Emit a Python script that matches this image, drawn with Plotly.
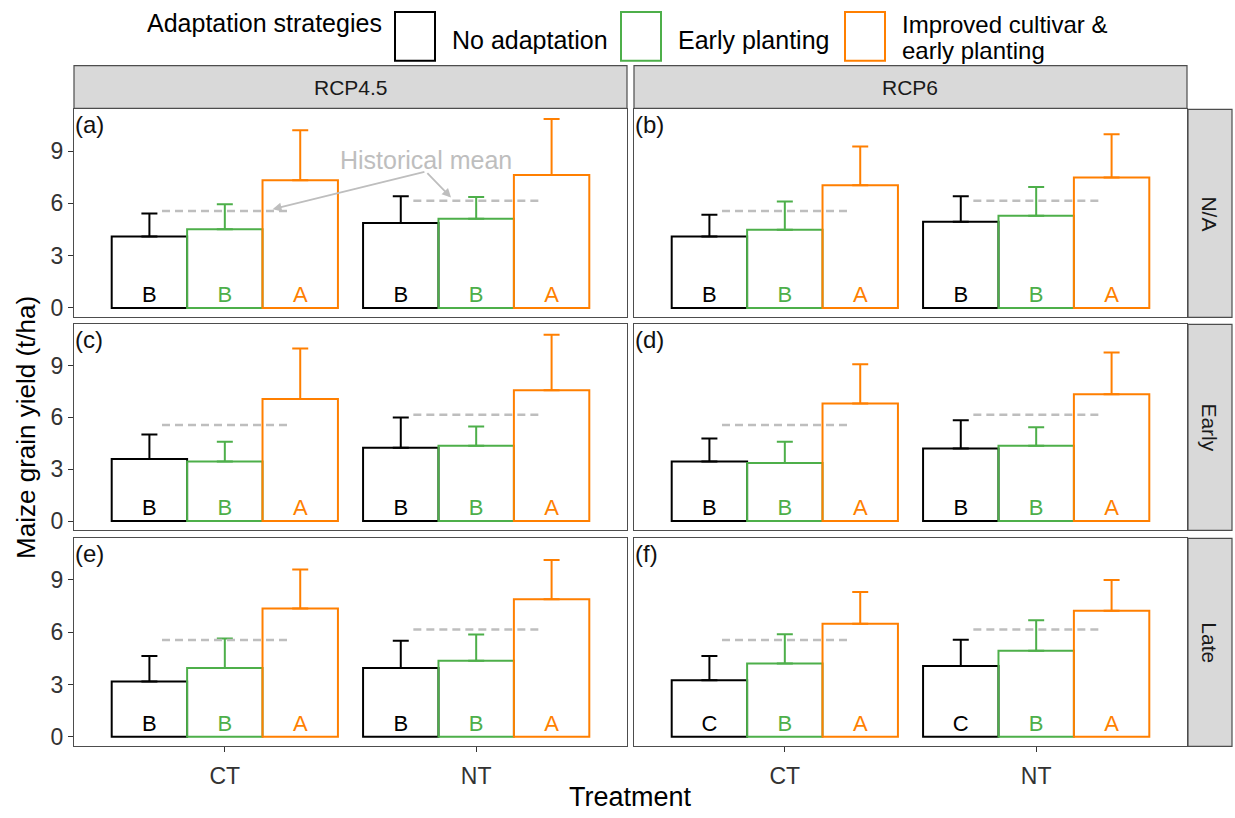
import plotly.graph_objects as go

W, H = 1235, 818
FONT = "Liberation Sans, Arial, sans-serif"

# ---------------- data ----------------
treatments = ["CT", "NT"]
rcps = ["RCP4.5", "RCP6"]
timings = ["N/A", "Early", "Late"]
strategy_names = ["No adaptation", "Early planting", "Improved cultivar &", "early planting"]
colors = ["#000000", "#4DAF4A", "#FF7F00"]
panel_tags = ["(a)", "(b)", "(c)", "(d)", "(e)", "(f)"]

# panels in order a..f : (RCP4.5,N/A),(RCP6,N/A),(RCP4.5,Early),(RCP6,Early),(RCP4.5,Late),(RCP6,Late)
# each entry: [CT, NT]
mean_no_adapt = [[4.10, 4.87], [4.10, 4.94], [3.59, 4.24], [3.44, 4.20], [3.17, 3.95], [3.24, 4.06]]
sd_no_adapt = [[1.32, 1.54], [1.24, 1.47], [1.42, 1.76], [1.34, 1.63], [1.46, 1.56], [1.39, 1.51]]
mean_early = [[4.52, 5.11], [4.48, 5.29], [3.44, 4.36], [3.36, 4.36], [3.95, 4.37], [4.20, 4.94]]
sd_early = [[1.43, 1.26], [1.63, 1.64], [1.15, 1.11], [1.23, 1.07], [1.69, 1.50], [1.69, 1.75]]
mean_improved = [[7.33, 7.63], [7.04, 7.48], [7.07, 7.57], [6.80, 7.34], [7.36, 7.89], [6.48, 7.23]]
sd_improved = [[2.86, 3.21], [2.22, 2.48], [2.92, 3.21], [2.28, 2.41], [2.23, 2.25], [1.82, 1.77]]
letters_no_adapt = [["B", "B"], ["B", "B"], ["B", "B"], ["B", "B"], ["B", "B"], ["C", "C"]]
letters_early = [["B", "B"], ["B", "B"], ["B", "B"], ["B", "B"], ["B", "B"], ["B", "B"]]
letters_improved = [["A", "A"], ["A", "A"], ["A", "A"], ["A", "A"], ["A", "A"], ["A", "A"]]
historical_mean = [5.56, 6.15]  # CT, NT
y_ticks = [0, 3, 6, 9]

means = [mean_no_adapt, mean_early, mean_improved]
sds = [sd_no_adapt, sd_early, sd_improved]
letters = [letters_no_adapt, letters_early, letters_improved]

# ---------------- layout geometry (px) ----------------
col_x = [(74, 627), (634, 1187)]
row_y = [(110, 319), (326, 533), (541, 750)]
strip_top = (66, 109)
strip_right = (1188, 1232)

def px(x):
    return x / W

def py(y):
    return 1 - y / H

bar_w = 0.3
dodge = [-0.3, 0.0, 0.3]
label_y = 0.67

top = max(m + s for M, S in zip(means, sds) for pm, ps in zip(M, S) for m, s in zip(pm, ps))
y_range = [-0.05 * top, top * 1.05]

fig = go.Figure()
layout = {}
annotations = []
shapes = []

line_col = "#4D4D4D"
tick_font = dict(family=FONT, size=23, color="#333333")


def label(text, x, y, size, color="#000000", xanchor="center", yanchor="middle", **kw):
    d = dict(text=text, xref="paper", yref="paper", x=px(x), y=py(y), xanchor=xanchor,
             yanchor=yanchor, showarrow=False, font=dict(family=FONT, size=size, color=color))
    d.update(kw)
    annotations.append(d)


for r in range(3):
    for c in range(2):
        k = r * 2 + c
        n = k + 1
        sfx = "" if n == 1 else str(n)
        xref, yref = "x" + sfx, "y" + sfx
        layout["xaxis" + sfx] = dict(
            domain=[px(col_x[c][0]), px(col_x[c][1])], range=[0.4, 2.6], anchor=yref,
            tickvals=[1, 2], ticktext=treatments, showticklabels=(r == 2),
            ticks="outside" if r == 2 else "", ticklen=5, tickcolor="#333333", tickwidth=1,
            ticklabelstandoff=4,
            showline=True, mirror=True, linecolor=line_col, linewidth=1.2,
            showgrid=False, zeroline=False, tickfont=tick_font, fixedrange=True)
        layout["yaxis" + sfx] = dict(
            domain=[py(row_y[r][1]), py(row_y[r][0])], range=y_range, anchor=xref,
            tickvals=y_ticks, showticklabels=(c == 0),
            ticks="outside" if c == 0 else "", ticklen=5, tickcolor="#333333", tickwidth=1,
            showline=True, mirror=True, linecolor=line_col, linewidth=1.2,
            showgrid=False, zeroline=False, tickfont=tick_font, fixedrange=True)

        # historical mean dashed segments
        for t, h in enumerate(historical_mean):
            fig.add_trace(go.Scatter(
                x=[t + 1 - 0.25, t + 1 + 0.25], y=[h, h], mode="lines",
                line=dict(color="#BEBEBE", width=2.5, dash="8px,5px"),
                xaxis=xref, yaxis=yref, showlegend=False, hoverinfo="skip"))

        for s in range(3):
            xs = [t + 1 + dodge[s] for t in range(len(treatments))]
            fig.add_trace(go.Bar(
                x=xs, y=means[s][k], width=bar_w,
                marker=dict(color="rgba(0,0,0,0)", line=dict(color=colors[s], width=2)),
                error_y=dict(type="data", array=sds[s][k], arrayminus=[0] * len(xs),
                             symmetric=False, color=colors[s], thickness=2, width=8),
                xaxis=xref, yaxis=yref, showlegend=False))
            fig.add_trace(go.Scatter(
                x=xs, y=[label_y] * len(xs), mode="text", text=letters[s][k],
                textfont=dict(family=FONT, size=22, color=colors[s]),
                xaxis=xref, yaxis=yref, showlegend=False, hoverinfo="skip"))

        annotations.append(dict(
            text=panel_tags[k], xref=xref + " domain", yref=yref + " domain", x=0, y=1,
            xanchor="left", yanchor="top", showarrow=False, xshift=-1, yshift=0,
            font=dict(family=FONT, size=24, color="#111111")))

# strips
for c in range(2):
    shapes.append(dict(type="rect", xref="paper", yref="paper",
                       x0=px(col_x[c][0]), x1=px(col_x[c][1]), y0=py(strip_top[1]), y1=py(strip_top[0]),
                       fillcolor="#D9D9D9", line=dict(color=line_col, width=1.2)))
    label(rcps[c], (col_x[c][0] + col_x[c][1]) / 2, sum(strip_top) / 2, 21, "#1A1A1A")
for r in range(3):
    shapes.append(dict(type="rect", xref="paper", yref="paper",
                       x0=px(strip_right[0]), x1=px(strip_right[1]), y0=py(row_y[r][1]), y1=py(row_y[r][0]),
                       fillcolor="#D9D9D9", line=dict(color=line_col, width=1.2)))
    label(timings[r], sum(strip_right) / 2, sum(row_y[r]) / 2, 21, "#1A1A1A", textangle=90)

# axis titles
label("Maize grain yield (t/ha)", 26, (row_y[0][0] + row_y[2][1]) / 2, 26, textangle=-90)
label("Treatment", (col_x[0][0] + col_x[1][1]) / 2, 801, 27)

# historical mean annotation (panel a)
annotations.append(dict(text="Historical mean", xref="x", yref="y", x=1.80, y=8.5,
                        xanchor="center", yanchor="middle",
                        showarrow=False, font=dict(family=FONT, size=25, color="#BEBEBE")))
for hx, hy in [(1.19, 5.66), (1.90, 6.33)]:
    annotations.append(dict(text="", xref="x", yref="y", axref="x", ayref="y",
                            x=hx, y=hy, ax=1.80, ay=7.82, showarrow=True,
                            arrowhead=2, arrowsize=1, arrowwidth=1.8, arrowcolor="#BEBEBE"))

# legend
label("Adaptation strategies", 145, 23, 25, xanchor="left")
key_x = [395, 621, 845]
for s in range(3):
    shapes.append(dict(type="rect", xref="paper", yref="paper",
                       x0=px(key_x[s]), x1=px(key_x[s] + 40), y0=py(61), y1=py(12),
                       fillcolor="white", line=dict(color=colors[s], width=2)))
label(strategy_names[0], key_x[0] + 55, 40, 25, xanchor="left")
label(strategy_names[1], key_x[1] + 55, 40, 25, xanchor="left")
label(strategy_names[2], key_x[2] + 55, 25, 24, xanchor="left")
label(strategy_names[3], key_x[2] + 55, 51, 24, xanchor="left")

layout.update(dict(
    width=W, height=H, autosize=False, margin=dict(l=0, r=0, t=0, b=0),
    paper_bgcolor="white", plot_bgcolor="white", barmode="overlay",
    annotations=annotations, shapes=shapes, showlegend=False,
    font=dict(family=FONT)))
fig.update_layout(**layout)

fig.write_html("out.html", config={"displayModeBar": False},
               post_script="document.body.style.margin='0';document.body.style.padding='0';")
